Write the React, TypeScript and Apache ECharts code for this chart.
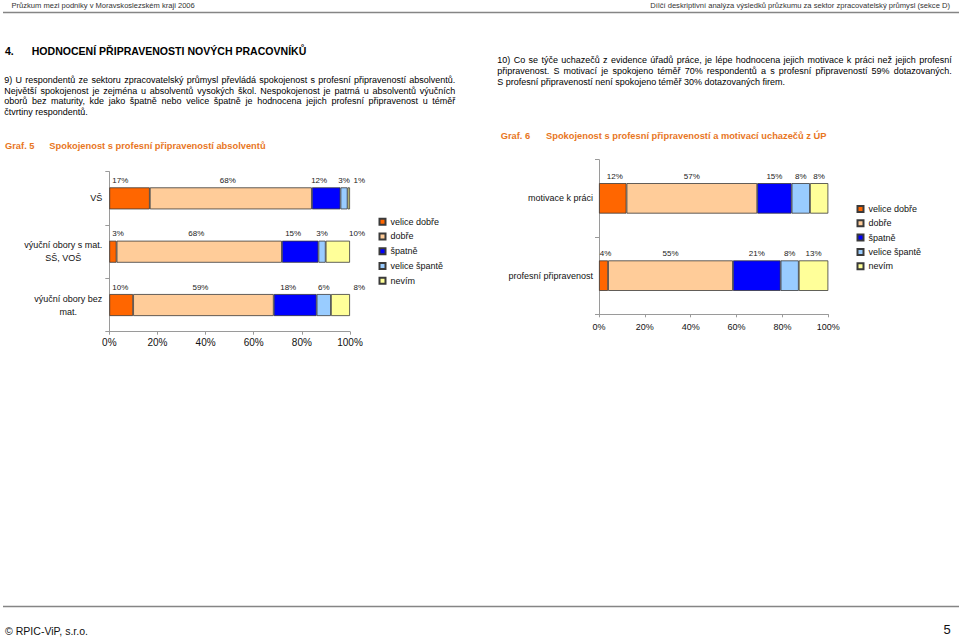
import React, { useEffect, useRef } from "react";
import * as echarts from "echarts";

// ---------- data ----------
const ratings = ["velice dobře", "dobře", "špatně", "velice špantě", "nevím"];
const ratingColors = ["#FF6600", "#FFCC99", "#0000FF", "#99CCFF", "#FFFF99"];

// Graf. 5
const g5Categories = ["VŠ", "výuční obory s mat.\nSŠ, VOŠ", "výuční obory bez\nmat."];
const g5VeliceDobre = [17, 3, 10];
const g5Dobre = [68, 68, 59];
const g5Spatne = [12, 15, 18];
const g5VeliceSpatne = [3, 3, 6];
const g5Nevim = [1, 10, 8];

// Graf. 6
const g6Categories = ["motivace k práci", "profesní připravenost"];
const g6VeliceDobre = [12, 4];
const g6Dobre = [57, 55];
const g6Spatne = [15, 21];
const g6VeliceSpatne = [8, 8];
const g6Nevim = [8, 13];

const xTicks = [0, 20, 40, 60, 80, 100];

// ---------- texts ----------
const headerLeft = "Průzkum mezi podniky v Moravskoslezském kraji 2006";
const headerRight = "Dílčí deskriptivní analýza výsledků průzkumu za sektor zpracovatelský průmysl (sekce D)";
const titleNum = "4.";
const titleText = "HODNOCENÍ PŘIPRAVENOSTI NOVÝCH PRACOVNÍKŮ";
const para9 = [
  "9) U respondentů ze sektoru zpracovatelský průmysl převládá spokojenost s profesní připraveností absolventů.",
  "Největší spokojenost je zejména u absolventů vysokých škol. Nespokojenost je patrná u absolventů výučních",
  "oborů bez maturity, kde jako špatně nebo velice špatně je hodnocena jejich profesní připravenost u téměř",
  "čtvrtiny respondentů.",
];
const para10 = [
  "10) Co se týče uchazečů z evidence úřadů práce, je lépe hodnocena jejich motivace k práci než jejich profesní",
  "připravenost. S motivací je spokojeno téměř 70% respondentů a s profesní připraveností 59% dotazovaných.",
  "S profesní připraveností není spokojeno téměř 30% dotazovaných firem.",
];
const graf5Label = "Graf. 5";
const graf5Title = "Spokojenost s profesní připraveností absolventů";
const graf6Label = "Graf. 6";
const graf6Title = "Spokojenost s profesní připraveností a motivací uchazečů z ÚP";
const footerText = "© RPIC-ViP, s.r.o.";
const pageNumber = "5";

const FAM = '"Liberation Sans", Arial, sans-serif';

let mctx: CanvasRenderingContext2D | null = null;
function measure(text: string, font: string) {
  if (!mctx) mctx = document.createElement("canvas").getContext("2d");
  mctx!.font = font;
  return mctx!.measureText(text).width;
}
function fontStr(size: number, weight = "normal") {
  return `${weight} ${size.toFixed(2)}px ${FAM}`;
}
function fitSize(text: string, target: number, weight = "normal") {
  return (10 * target) / measure(text, fontStr(10, weight));
}

function textEl(text: string, x: number, y: number, size: number, fill: string, weight = "normal", align = "left") {
  return {
    type: "text",
    x,
    y,
    silent: true,
    style: { text, font: fontStr(size, weight), fill, textAlign: align, textVerticalAlign: "middle" },
  };
}

function justified(line: string, x0: number, x1: number, y: number, size: number, fill: string) {
  const words = line.split(" ");
  const font = fontStr(size);
  const ws = words.map((w) => measure(w, font));
  const total = ws.reduce((a, b) => a + b, 0);
  const gap = words.length > 1 ? (x1 - x0 - total) / (words.length - 1) : 0;
  const out: any[] = [];
  let x = x0;
  words.forEach((w, i) => {
    out.push(textEl(w, x, y, size, fill));
    x += ws[i] + gap;
  });
  return out;
}

function buildGraphics() {
  const els: any[] = [];
  // header
  els.push(textEl(headerLeft, 11.5, 5, fitSize(headerLeft, 183.5), "#333"));
  els.push(textEl(headerRight, 950, 5, fitSize(headerRight, 300), "#333", "normal", "right"));
  els.push({ type: "line", silent: true, shape: { x1: 3, y1: 12.5, x2: 959, y2: 12.5 }, style: { stroke: "#858585", lineWidth: 1.6 } });

  // title
  const tSize = fitSize(titleText, 275, "bold");
  els.push(textEl(titleNum, 5, 50.5, tSize, "#000", "bold"));
  els.push(textEl(titleText, 31.7, 50.5, tSize, "#000", "bold"));

  // paragraph size
  let pSize = fitSize(para10[2], 287.7);
  const checks: [string, number][] = [
    [para9[0], 451], [para9[1], 451], [para9[2], 451], [para10[0], 454.4], [para10[1], 454.4],
  ];
  checks.forEach(([t, w]) => {
    const s = fitSize(t, w) * 0.985;
    if (s < pSize) pSize = s;
  });
  const p9y = [80, 90.7, 101.2, 111.8];
  para9.forEach((l, i) => {
    if (i < 3) els.push(...justified(l, 4.3, 455.3, p9y[i], pSize, "#000"));
    else els.push(textEl(l, 4.3, p9y[i], pSize, "#000"));
  });
  const p10y = [60.3, 71, 81.5];
  para10.forEach((l, i) => {
    if (i < 2) els.push(...justified(l, 497.3, 951.7, p10y[i], pSize, "#000"));
    else els.push(textEl(l, 497.3, p10y[i], pSize, "#000"));
  });

  // graph captions
  const orange = "#E8761E";
  const cSize = fitSize(graf6Title, 280.7, "bold");
  els.push(textEl(graf5Label, 5, 146, cSize, orange, "bold"));
  els.push(textEl(graf5Title, 49.3, 146, cSize, orange, "bold"));
  els.push(textEl(graf6Label, 500.7, 136, cSize, orange, "bold"));
  els.push(textEl(graf6Title, 546, 136, cSize, orange, "bold"));

  // footer
  els.push({ type: "line", silent: true, shape: { x1: 3, y1: 606.5, x2: 959, y2: 606.5 }, style: { stroke: "#858585", lineWidth: 1.6 } });
  els.push(textEl(footerText, 5, 631, fitSize(footerText, 83), "#111"));
  els.push(textEl(pageNumber, 950.7, 629.5, 13, "#111", "normal", "right"));
  return els;
}

function makeSeries(
  stack: string,
  axisIndex: number,
  values: number[][],
  labelCfgs: any[],
  barWidth: number
) {
  const n = values[0].length;
  const sums = Array.from({ length: n }, (_, i) => values.reduce((a, arr) => a + arr[i], 0));
  return ratings.map((name, r) => ({
    type: "bar",
    name,
    stack,
    xAxisIndex: axisIndex,
    yAxisIndex: axisIndex,
    barWidth,
    data: values[r].map((v, i) => (v / sums[i]) * 100),
    itemStyle: { color: ratingColors[r], borderColor: "#3a3a3a", borderWidth: 0.8 },
    label: {
      show: true,
      formatter: (p: any) => values[r][p.dataIndex] + "%",
      fontSize: 8,
      fontFamily: FAM,
      color: "#222",
      ...labelCfgs[r],
    },
  }));
}

export default function App() {
  const ref = useRef<HTMLDivElement>(null);
  useEffect(() => {
    document.body.style.margin = "0";
    const chart = echarts.init(ref.current!, null, { renderer: "svg" });

    const g5Values = [g5VeliceDobre, g5Dobre, g5Spatne, g5VeliceSpatne, g5Nevim];
    const g6Values = [g6VeliceDobre, g6Dobre, g6Spatne, g6VeliceSpatne, g6Nevim];

    const g5Labels = [
      { position: [3, -3], align: "left", verticalAlign: "bottom" },
      { position: "top", distance: 3, offset: [-3, 0] },
      { position: "top", distance: 3, offset: [-7, 0] },
      { position: "top", distance: 3, offset: [0, 0] },
      { position: ["100%", -3], align: "right", verticalAlign: "bottom", offset: [15, 0] },
    ];
    const g6Labels = ratings.map((_, r) => ({ position: "top", distance: 3, offset: [r === 0 ? 2 : 0, 0] }));

    const axisGray = "#9a9a9a";
    const xAxisCommon = (fontSize: number, margin: number, gridIndex: number) => ({
      type: "value",
      gridIndex,
      min: xTicks[0],
      max: xTicks[xTicks.length - 1],
      interval: xTicks[1] - xTicks[0],
      splitLine: { show: false },
      axisLine: { show: true, lineStyle: { color: axisGray, width: 1 } },
      axisTick: { show: true, length: 3, lineStyle: { color: axisGray } },
      axisLabel: { formatter: "{value}%", fontSize, fontFamily: FAM, color: "#111", margin },
    });
    const yAxisCommon = (cats: string[], gridIndex: number, margin: number) => ({
      type: "category",
      gridIndex,
      inverse: true,
      data: cats,
      axisLine: { show: true, lineStyle: { color: axisGray, width: 1 } },
      axisTick: { show: true, length: 4, lineStyle: { color: axisGray } },
      axisLabel: {
        margin,
        color: "#111",
        fontSize: 9,
        fontFamily: FAM,
        formatter: (v: string) => v.split("\n").map((l) => `{c|${l}}`).join("\n"),
        rich: { c: { align: "center", fontSize: 9, fontFamily: FAM, color: "#111", lineHeight: 13 } },
      },
    });

    const legendCommon = {
      orient: "vertical",
      selectedMode: false,
      padding: 0,
      icon: "rect",
      itemWidth: 6,
      itemHeight: 6,
      data: ratings,
      textStyle: { fontSize: 9, fontFamily: FAM, color: "#111", lineHeight: 10 },
    };

    chart.setOption({
      animation: false,
      graphic: { elements: buildGraphics() },
      grid: [
        { left: 109.3, top: 171.7, width: 240.7, height: 160 },
        { left: 599, top: 159.7, width: 229.3, height: 154.6 },
      ],
      xAxis: [xAxisCommon(10, 6, 0), xAxisCommon(9, 8, 1)],
      yAxis: [yAxisCommon(g5Categories, 0, 7), yAxisCommon(g6Categories, 1, 6)],
      legend: [
        { ...legendCommon, left: 378.5, top: 216.7, itemGap: 4.75 },
        { ...legendCommon, left: 856.5, top: 204, itemGap: 4.3 },
      ],
      series: [
        ...makeSeries("g5", 0, g5Values, g5Labels, 22),
        ...makeSeries("g6", 1, g6Values, g6Labels, 30.5),
      ],
    });
    return () => chart.dispose();
  }, []);
  return <div ref={ref} style={{ width: 959, height: 637, background: "#fff" }} />;
}
